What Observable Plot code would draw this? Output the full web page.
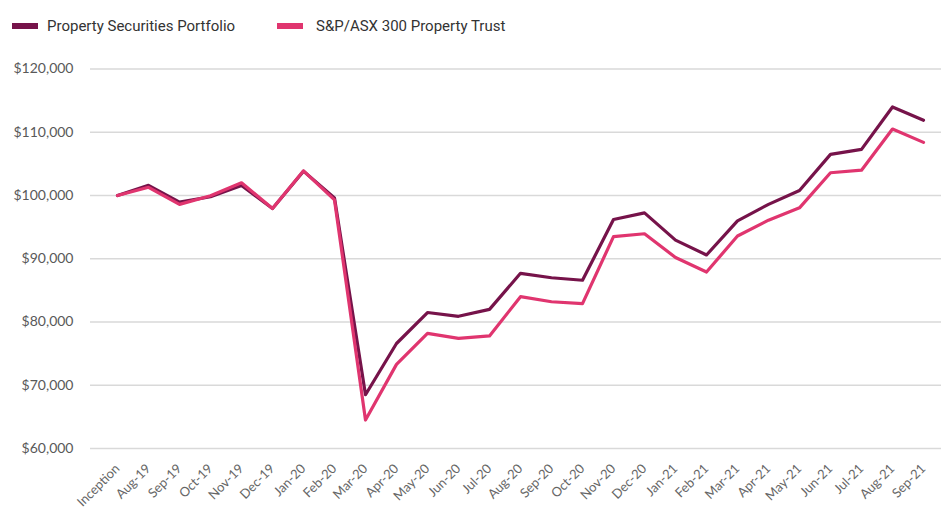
<!DOCTYPE html>
<html>
<head>
<meta charset="utf-8">
<script src="https://cdn.jsdelivr.net/npm/d3@7"></script>
<script src="https://cdn.jsdelivr.net/npm/@observablehq/plot@0.6"></script>
<style>
  body { margin: 0; background: #fff; width: 941px; overflow: hidden; }
  #legend { height: 45px; position: relative; font-family: Roboto, sans-serif; font-size: 15px; color: #333; }
  .item { position: absolute; top: 16px; display: flex; align-items: center; height: 20px; }
  .sw { width: 26px; height: 6px; margin-right: 9px; }
  #chart svg { display: block; }
</style>
</head>
<body>
<div id="legend"></div>
<div id="chart"></div>
<script>
const months = ["Inception","Aug-19","Sep-19","Oct-19","Nov-19","Dec-19","Jan-20","Feb-20","Mar-20","Apr-20","May-20","Jun-20","Jul-20","Aug-20","Sep-20","Oct-20","Nov-20","Dec-20","Jan-21","Feb-21","Mar-21","Apr-21","May-21","Jun-21","Jul-21","Aug-21","Sep-21"];
const portfolio = [100000,101600,98950,99800,101600,97950,103850,99600,68500,76600,81500,80900,82000,87700,87000,86600,96200,97250,92950,90600,96000,98600,100800,106500,107300,114000,111900];
const benchmark = [100000,101300,98600,99950,102000,97950,103900,99300,64500,73300,78200,77400,77800,84000,83200,82900,93500,93950,90200,87900,93600,96100,98050,103600,104000,110500,108400];
const seriesNames = ["Property Securities Portfolio","S&P/ASX 300 Property Trust"];
const seriesColors = ["#76134a","#e0356f"];
const yTicks = [60000,70000,80000,90000,100000,110000,120000];

const legend = document.getElementById("legend");
const legendX = [12, 277];
seriesNames.forEach((n, i) => {
  const d = document.createElement("div");
  d.className = "item";
  d.style.left = legendX[i] + "px";
  d.innerHTML = `<span class="sw" style="background:${seriesColors[i]}"></span><span></span>`;
  d.lastChild.textContent = n;
  if (i === 1) d.firstChild.style.marginRight = "13px";
  legend.appendChild(d);
});

const rows = [];
seriesNames.forEach((s, si) => {
  const vals = si === 0 ? portfolio : benchmark;
  months.forEach((m, i) => rows.push({series: s, month: m, value: vals[i]}));
});

const fmt = d3.format("$,");
const chart = Plot.plot({
  width: 941,
  height: 465,
  marginLeft: 106,
  marginRight: 8,
  marginTop: 23.5,
  marginBottom: 62,
  style: {fontFamily: "Lato, sans-serif", fontSize: "14px", color: "#595959", background: "#fff"},
  x: {type: "point", domain: months, padding: 0, label: null},
  y: {domain: [60000, 120000], ticks: yTicks, tickFormat: fmt, label: null, tickSize: 0, tickPadding: 33},
  color: {domain: seriesNames, range: seriesColors},
  marks: [
    Plot.ruleY(yTicks, {stroke: "#d9d9d9", strokeWidth: 1.3, insetLeft: -16, insetRight: -8}),
    Plot.axisX({tickSize: 0, tickRotate: -45, tickPadding: 8, dx: 0, dy: 10, fontSize: 13, label: null, fill: "#666"}),
    Plot.line(rows, {x: "month", y: "value", z: "series", stroke: "series", strokeWidth: 3.2, strokeLinejoin: "round"})
  ]
});
document.getElementById("chart").appendChild(chart);
</script>
</body>
</html>
